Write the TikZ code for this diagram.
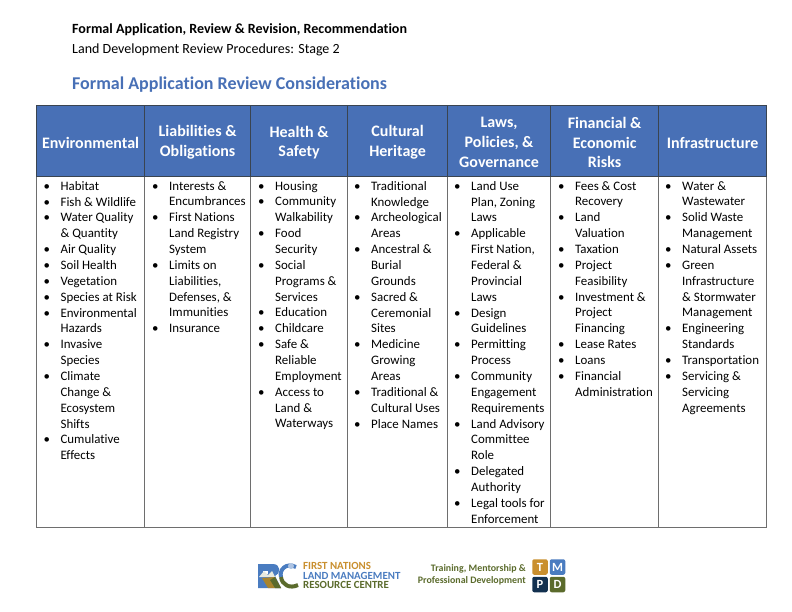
\documentclass[tikz,border=0pt]{standalone}
\usepackage{fontspec}
\setmainfont[Ligatures=CommonOff]{Carlito}
\usetikzlibrary{positioning,calc}
\definecolor{headblue}{HTML}{4870B6}
\definecolor{tmporange}{HTML}{C98F2E}
\definecolor{tmpnavy}{HTML}{12304F}
\definecolor{tmpgreen}{HTML}{5B6B2C}
\definecolor{logoblue}{HTML}{4A7CC0}
\definecolor{gridgray}{HTML}{3A4450}
\definecolor{bodygray}{HTML}{6E6E6E}
\newcommand{\bl}{\makebox[17bp][l]{\textbullet}}
\newcommand{\ct}{\hspace*{17bp}}
\tikzset{
    x=1bp,y=-1bp,
    headcell/.style={fill=headblue,draw=gridgray,line width=0.8pt,inner sep=0pt},
    headlabel/.style={text=white,align=center,inner sep=0pt,
        font=\fontsize{16bp}{19.8bp}\selectfont\bfseries},
    bodytext/.style={anchor=north west,align=left,inner sep=0pt,
        font=\fontsize{12.9bp}{15.86bp}\selectfont},
    tmpbox/.style={rounded corners=2pt,minimum size=15.5bp,inner sep=0pt,text=white,
        font=\fontsize{12.5bp}{12.5bp}\selectfont\bfseries},
    logotext/.style={inner sep=0pt,anchor=west,font=\fontsize{10.9bp}{11bp}\selectfont\bfseries}
}
\begin{document}
\begin{tikzpicture}
    \useasboundingbox[fill=white] (0,0) rectangle (792,612);

    % Titles
    \node[anchor=base west,inner sep=0pt,font=\fontsize{14.05bp}{15bp}\selectfont\bfseries] (pagetitle) at (72,34) {Formal Application, Review \& Revision, Recommendation};
    \node[anchor=base west,inner sep=0pt,font=\fontsize{14bp}{15bp}\selectfont] (pagesub) at (72,54) {Land Development Review Procedures: Stage 2};
    \node[anchor=base west,inner sep=0pt,text=headblue,font=\fontsize{18bp}{20bp}\selectfont\bfseries] (tabletitle) at (72,90) {Formal Application Review Considerations};

    % Table frame
    \draw[bodygray,line width=0.9pt] (36.6,177) -- (36.6,527) -- (766.6,527) -- (766.6,177);
    \foreach \colx in {145,251,348,448,551,659}
        \draw[bodygray,line width=0.9pt] (\colx-0.4,177) -- (\colx-0.4,527);

    % Header row
    \foreach \name/\xa/\xb/\label in {
        env/36.6/144.6/Environmental,
        lia/144.6/250.6/{Liabilities \&\\Obligations},
        hea/250.6/347.6/{Health \&\\Safety},
        cul/347.6/447.6/{Cultural\\Heritage},
        law/447.6/550.6/{Laws,\\Policies, \&\\Governance},
        fin/550.6/658.6/{Financial \&\\Economic\\Risks},
        inf/658.6/766.6/Infrastructure}{
        \node[headcell,minimum width=\xb-\xa,minimum height=71bp] (head\name) at ({(\xa+\xb)/2},141.3) {};
        \node[headlabel] (label\name) at ({(\xa+\xb)/2},142.6) {\label};
    }

    % Body columns
    \node[bodytext] (bodyenv) at (43.4,181) {\bl Habitat\\\bl Fish \& Wildlife\\\bl Water Quality\\\ct \& Quantity\\\bl Air Quality\\\bl Soil Health\\\bl Vegetation\\\bl Species at Risk\\\bl Environmental\\\ct Hazards\\\bl Invasive\\\ct Species\\\bl Climate\\\ct Change \&\\\ct Ecosystem\\\ct Shifts\\\bl Cumulative\\\ct Effects};
    \node[bodytext] (bodylia) at (152,181) {\bl Interests \&\\\ct Encumbrances\\\bl First Nations\\\ct Land Registry\\\ct System\\\bl Limits on\\\ct Liabilities,\\\ct Defenses, \&\\\ct Immunities\\\bl Insurance};
    \node[bodytext] (bodyhea) at (258,181) {\bl Housing\\\bl Community\\\ct Walkability\\\bl Food\\\ct Security\\\bl Social\\\ct Programs \&\\\ct Services\\\bl Education\\\bl Childcare\\\bl Safe \&\\\ct Reliable\\\ct Employment\\\bl Access to\\\ct Land \&\\\ct Waterways};
    \node[bodytext] (bodycul) at (354,181) {\bl Traditional\\\ct Knowledge\\\bl Archeological\\\ct Areas\\\bl Ancestral \&\\\ct Burial\\\ct Grounds\\\bl Sacred \&\\\ct Ceremonial\\\ct Sites\\\bl Medicine\\\ct Growing\\\ct Areas\\\bl Traditional \&\\\ct Cultural Uses\\\bl Place Names};
    \node[bodytext] (bodylaw) at (454,181) {\bl Land Use\\\ct Plan, Zoning\\\ct Laws\\\bl Applicable\\\ct First Nation,\\\ct Federal \&\\\ct Provincial\\\ct Laws\\\bl Design\\\ct Guidelines\\\bl Permitting\\\ct Process\\\bl Community\\\ct Engagement\\\ct Requirements\\\bl Land Advisory\\\ct Committee\\\ct Role\\\bl Delegated\\\ct Authority\\\bl Legal tools for\\\ct Enforcement};
    \node[bodytext] (bodyfin) at (558,181) {\bl Fees \& Cost\\\ct Recovery\\\bl Land\\\ct Valuation\\\bl Taxation\\\bl Project\\\ct Feasibility\\\bl Investment \&\\\ct Project\\\ct Financing\\\bl Lease Rates\\\bl Loans\\\bl Financial\\\ct Administration};
    \node[bodytext] (bodyinf) at (665,181) {\bl Water \&\\\ct Wastewater\\\bl Solid Waste\\\ct Management\\\bl Natural Assets\\\bl Green\\\ct Infrastructure\\\ct \& Stormwater\\\ct Management\\\bl Engineering\\\ct Standards\\\bl Transportation\\\bl Servicing \&\\\ct Servicing\\\ct Agreements};

    % Logo mark
    \fill[logoblue] (258,564) -- (273,564) .. controls (281,564) and (281,574) .. (275,576) -- (281,588) -- (258,588) -- cycle;
    \fill[white] (263,571) -- (268,571) -- (268,574) -- (263,574) -- cycle;
    \fill[white!85!tmpgreen] (259,577) -- (264,571) -- (268,575) -- (272,571) -- (275,577) -- cycle;
    \fill[tmporange!70!tmpgreen] (262,578) -- (275,577) -- (281,588) -- (268,588) -- cycle;
    \fill[tmpgreen] (270,580) -- (275,577) -- (281,588) -- (275,588) -- cycle;
    \draw[logoblue,line width=4pt] (296,567) .. controls (286,562) and (279,570) .. (281,577);
    \draw[tmpgreen,line width=4pt] (281,577) .. controls (282,585) and (290,589) .. (298,585);
    \fill[logoblue!45] (291,566) circle (3);

    % Logo text
    \node[logotext,text=tmporange] (lmfirst) at (303,566) {FIRST NATIONS};
    \node[logotext,text=logoblue] (lmland) at (303,575.5) {LAND MANAGEMENT};
    \node[logotext,text=tmpgreen] (lmres) at (303,585) {RESOURCE CENTRE};
    \node[inner sep=0pt,anchor=east,text=tmpgreen,font=\fontsize{9.9bp}{12bp}\selectfont\bfseries] (tmptop) at (526,568.5) {Training, Mentorship \&};
    \node[inner sep=0pt,anchor=east,text=tmpgreen,font=\fontsize{9.9bp}{12bp}\selectfont\bfseries] (tmpbot) at (526,580.5) {Professional Development};

    % Badges
    \foreach \name/\bx/\by/\bcol/\letter in {t/540/567/tmporange/T,m/557.5/567/logoblue/M,p/540/584.5/tmpnavy/P,d/557.5/584.5/tmpgreen/D}
        \node[tmpbox,fill=\bcol] (badge\name) at (\bx,\by) {\letter};
\end{tikzpicture}
\end{document}
